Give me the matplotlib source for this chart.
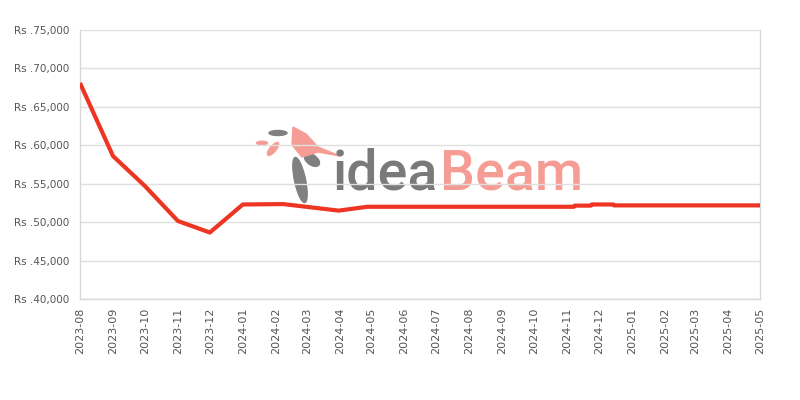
import matplotlib
matplotlib.use("Agg")
import matplotlib.pyplot as plt
import matplotlib.patches as mpatches
import matplotlib.transforms as mtrans
from datetime import datetime

dates = ["2023-08-01", "2023-09-01", "2023-10-01", "2023-11-01", "2023-12-01",
         "2024-01-01", "2024-02-08", "2024-03-31", "2024-04-27", "2024-11-07",
         "2024-11-08", "2024-11-23", "2024-11-24", "2024-12-14", "2024-12-15",
         "2025-05-01"]
prices = [68100, 58600, 54700, 50150, 48650,
          52300, 52350, 51500, 52000, 52000,
          52150, 52150, 52300, 52300, 52180,
          52180]

tick_months = ["2023-08", "2023-09", "2023-10", "2023-11", "2023-12",
               "2024-01", "2024-02", "2024-03", "2024-04", "2024-05",
               "2024-06", "2024-07", "2024-08", "2024-09", "2024-10",
               "2024-11", "2024-12", "2025-01", "2025-02", "2025-03",
               "2025-04", "2025-05"]
y_ticks = [40000, 45000, 50000, 55000, 60000, 65000, 70000, 75000]

x = [datetime.strptime(d, "%Y-%m-%d") for d in dates]
xt = [datetime.strptime(m + "-01", "%Y-%m-%d") for m in tick_months]

fig = plt.figure(figsize=(8, 4), dpi=100)
ax = fig.add_axes([0.1, 0.2525, 0.85, 0.6725])

ax.set_xlim(xt[0], xt[-1])
ax.set_ylim(40000, 75000)
ax.set_yticks(y_ticks)
ax.set_yticklabels(["Rs .{:,}".format(v) for v in y_ticks])
ax.set_xticks(xt)
ax.set_xticklabels(tick_months, rotation=90)
ax.tick_params(axis="both", length=0, labelsize=8, labelcolor="#555555")
ax.tick_params(axis="y", labelsize=7.5, pad=8)
ax.tick_params(axis="x", pad=6)
ax.grid(axis="y", color="#e0e0e0", linewidth=1)
ax.set_axisbelow(True)
for s in ["left", "bottom", "right"]:
    ax.spines[s].set_color("#d8d8d8")
    ax.spines[s].set_linewidth(1)
ax.spines["top"].set_visible(False)

# watermark, in pixel coordinates from the top-left corner
px = mtrans.Affine2D().scale(1, -1).translate(0, 400)

fig.text(438, 189, "idea", transform=px, fontsize=40, color="#7a7a7a",
         ha="right", va="baseline", family="Roboto", weight="medium", zorder=1)
fig.text(440, 189, "Beam", transform=px, fontsize=40, color="#f59d94",
         ha="left", va="baseline", family="Roboto", weight="medium", zorder=1)

shapes = [
    mpatches.Ellipse((300, 180), 11, 46, angle=-12, transform=px, color="#808080"),
    mpatches.Ellipse((312, 160), 17, 10, angle=35, transform=px, color="#808080"),
    mpatches.Polygon([(293, 127), (306, 134), (318, 147), (340, 156), (318, 152),
                      (302, 157), (292, 145)], closed=True, transform=px,
                     color="#f59d94"),
    mpatches.Ellipse((278, 133), 18, 5, angle=0, transform=px, color="#808080"),
    mpatches.Ellipse((273, 149), 16, 6, angle=-50, transform=px, color="#f59d94"),
    mpatches.Ellipse((262, 143), 11, 3.5, angle=0, transform=px, color="#f59d94"),
]
for p in shapes:
    p.set_zorder(1)
    fig.patches.append(p)

ax.patch.set_alpha(0)
ax.set_zorder(2)
ax.plot(x, prices, color="#ee3524", linewidth=3, solid_capstyle="butt", zorder=3)

fig.savefig("out.png", dpi=100)
